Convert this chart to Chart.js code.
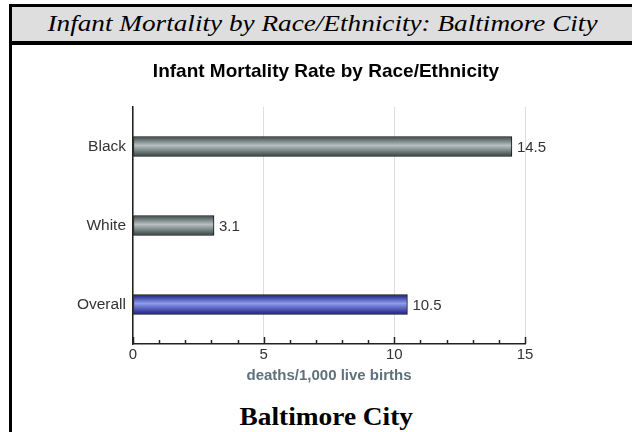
<!DOCTYPE html>
<html>
<head>
<meta charset="utf-8">
<script src="https://cdn.jsdelivr.net/npm/chart.js@4.4.1/dist/chart.umd.min.js"></script>
<style>
  body { margin: 0; width: 632px; height: 432px; background: #fff; position: relative; overflow: hidden; }
  .bar { position: absolute; background: #000; }
  #head { position: absolute; left: 9px; top: 7px; width: 623px; height: 34px; background: #dedede; }
  .txt { position: absolute; white-space: nowrap; font-family: "Liberation Serif", serif; color: #000; transform-origin: center; }
  #headTxt { font-style: italic; font-size: 24px; line-height: 24px; top: 11px; }
  #footTxt { font-weight: bold; font-size: 25px; line-height: 25px; top: 404px; }
  #wrap { position: absolute; left: 12px; top: 45px; width: 620px; height: 345px; }
</style>
</head>
<body>
<div id="head"></div>
<div class="bar" style="left:9px;top:4px;width:623px;height:3px"></div>
<div class="bar" style="left:9px;top:41px;width:623px;height:4px"></div>
<div class="bar" style="left:9px;top:4px;width:3px;height:428px"></div>
<div class="txt" id="headTxt">Infant Mortality by Race/Ethnicity: Baltimore City</div>
<div class="txt" id="footTxt">Baltimore City</div>
<div id="wrap"><canvas id="chart" width="620" height="345"></canvas></div>
<script>
// data
var categories = ['Black', 'White', 'Overall'];
var rates = [14.5, 3.1, 10.5];
var xMin = 0, xMax = 15, xStep = 5;
var chartTitle = 'Infant Mortality Rate by Race/Ethnicity';

// stretch the serif texts to the widths in the original
function fitText(id, width, centerX) {
    var el = document.getElementById(id);
    var w = el.offsetWidth;
    el.style.left = (centerX - w / 2) + 'px';
    el.style.transform = 'scaleX(' + (width / w) + ')';
}
fitText('headTxt', 550, 322);
fitText('footTxt', 174, 326);

var BAR = 20;
var font = '"Liberation Sans", Arial, sans-serif';

function barFill(c) {
    var chart = c.chart;
    var y = chart.scales && chart.scales.y;
    var blue = categories[c.dataIndex] === 'Overall';
    if (!y || !chart.chartArea) return blue ? '#4050c0' : '#7a8686';
    var cy = y.getPixelForValue(c.dataIndex);
    var g = chart.ctx.createLinearGradient(0, cy - BAR / 2, 0, cy + BAR / 2);
    if (blue) {
        g.addColorStop(0, '#1a1a80');
        g.addColorStop(0.45, '#8c9cec');
        g.addColorStop(1, '#1c1c84');
    } else {
        g.addColorStop(0, '#3c4a4a');
        g.addColorStop(0.45, '#b8c0c0');
        g.addColorStop(1, '#344242');
    }
    return g;
}

// title centred on the page, not on the padded box
var topTitle = {
    id: 'topTitle',
    afterDraw: function(chart) {
        var ctx = chart.ctx;
        ctx.save();
        ctx.font = 'bold 19px ' + font;
        ctx.fillStyle = '#000';
        ctx.textAlign = 'center';
        ctx.textBaseline = 'middle';
        ctx.fillText(chartTitle, 314, 27);
        ctx.restore();
    }
};

// value labels at the end of each bar
var valueLabels = {
    id: 'valueLabels',
    afterDatasetsDraw: function(chart) {
        var ctx = chart.ctx;
        var meta = chart.getDatasetMeta(0);
        ctx.save();
        ctx.font = '15px ' + font;
        ctx.fillStyle = '#333';
        ctx.textBaseline = 'middle';
        ctx.textAlign = 'left';
        meta.data.forEach(function(bar, i) {
            ctx.fillText(String(rates[i]), bar.x + 5, bar.y + 1);
        });
        ctx.restore();
    }
};

// inward tick marks on the x axis, major every 5
var innerTicks = {
    id: 'innerTicks',
    afterDraw: function(chart) {
        var x = chart.scales.x;
        var ctx = chart.ctx;
        var bottom = chart.chartArea.bottom;
        ctx.save();
        ctx.strokeStyle = '#222';
        ctx.lineWidth = 1.5;
        for (var v = xMin; v <= xMax; v++) {
            var px = Math.round(x.getPixelForValue(v)) + 0.5;
            var len = v % xStep === 0 ? 7 : 4;
            ctx.beginPath();
            ctx.moveTo(px, bottom);
            ctx.lineTo(px, bottom - len);
            ctx.stroke();
        }
        ctx.restore();
    }
};

new Chart(document.getElementById('chart').getContext('2d'), {
    type: 'bar',
    data: {
        labels: categories,
        datasets: [{
            data: rates,
            backgroundColor: barFill,
            borderColor: '#111',
            borderWidth: 1,
            borderSkipped: false,
            barThickness: BAR
        }]
    },
    options: {
        indexAxis: 'y',
        responsive: false,
        animation: false,
        layout: {
            padding: { left: 0, right: 107, top: 62, bottom: 5 }
        },
        plugins: {
            legend: { display: false },
            tooltip: { enabled: false },
            title: { display: false }
        },
        scales: {
            x: {
                min: xMin,
                max: xMax,
                ticks: {
                    stepSize: xStep,
                    color: '#333',
                    padding: 2,
                    font: { family: font, size: 15 }
                },
                grid: {
                    color: '#dddddd',
                    lineWidth: 1,
                    drawTicks: false
                },
                border: { color: '#222', width: 1.5 },
                title: {
                    display: true,
                    text: 'deaths/1,000 live births',
                    color: '#5f717b',
                    font: { family: font, size: 15, weight: 'bold' },
                    padding: { top: 1, bottom: 0 }
                }
            },
            y: {
                ticks: {
                    color: '#333',
                    padding: 7,
                    font: { family: font, size: 15.5 }
                },
                grid: { display: false, drawTicks: false },
                border: { color: '#222', width: 1.5 },
                afterFit: function(scale) { scale.width = 121; }
            }
        }
    },
    plugins: [valueLabels, innerTicks, topTitle]
});
</script>
</body>
</html>
